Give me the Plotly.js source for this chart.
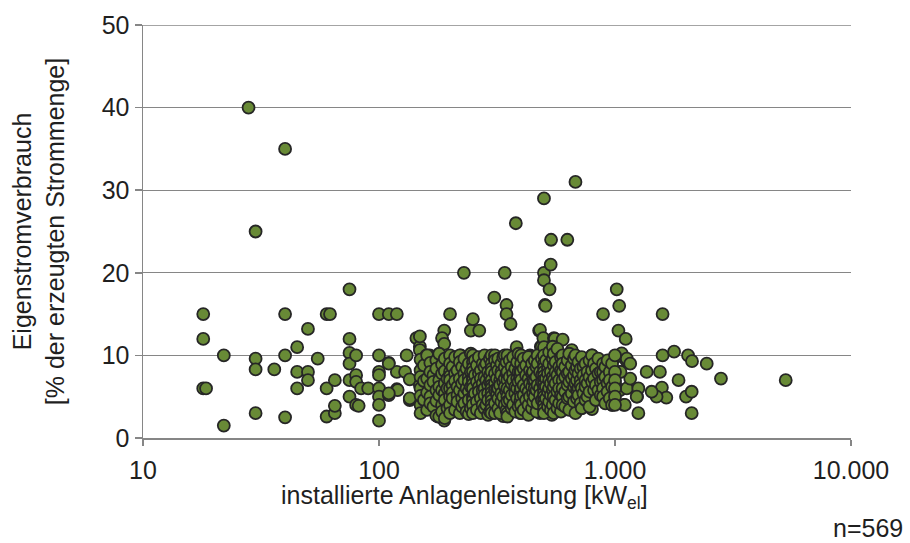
<!DOCTYPE html>
<html><head><meta charset="utf-8">
<script src="https://cdn.plot.ly/plotly-3.0.1.min.js"></script>
<style>html,body{margin:0;padding:0;background:#fff}#chart{width:910px;height:543px}</style>
</head><body><div id="chart"></div>
<script>
// Sparse plants below ~150 kW: [capacity kW, own use %]
const smallPlants = [[18,15],[18,12],[22,10],[18,6],[18.5,6],[22,1.5],[28,40],[40,35],[30,25],[30,9.6],[30,8.3],[30,3],[36,8.3],[40,15],[40,10],[40,2.5],[45,11],[45,8],[45,6],[50,13.2],[50,8],[50,7],[55,9.6],[60,15],[62,15],[60,6],[60,2.6],[65,3],[65,7],[65,3.9],[75,18],[75,12],[75,10.3],[75,9],[75,7],[75,5],[80,10],[80,7.6],[80,6.8],[80,4],[82,3.9],[84,6],[90,6],[100,15],[110,15],[119,15],[100,10],[110,9.1],[100,8],[100,7.6],[100,6],[100,5],[100,4],[100,2.1],[110,5.2],[119,8],[119,5.9],[129,8],[131,10],[135,7.1],[135,4.6],[144,12.1],[149,11.05],[149,12.3],[149,10.65],[149,6.4],[150,4],[120,5.8],[110,9],[110,5.4],[135,4.8]];
// Notable mid-size plants (150-1000 kW) outside the dense core
const midPlants = [[159,10],[164,10],[175,9.9],[189,13],[185,12.1],[189,11.4],[200,15],[229,20],[222,10],[246,10],[245,13],[266,13],[250,14.4],[308,17],[341,20],[347,16.1],[347,15],[361,13.8],[380,26],[383,11],[436,10],[440,9.9],[477,13],[481,13.1],[485,11.05],[489,11.05],[497,12.1],[500,29],[500,20],[500,19.1],[505,16.1],[508,16],[528,18],[534,21],[536,24],[551,12.1],[556,12],[600,11.9],[628,24],[656,10.65],[680,31],[799,10],[890,15],[740,9],[895,9],[799,3.5],[723,6],[850,5.8],[735,8.6],[895,7],[641,5],[178,2.6],[189,2.1],[336,2.66],[397,3],[481,3],[540,2.8]];
// Large plants (about 1000 kW and more)
const largePlants = [[1017,18],[1042,16],[1034,13],[1110,12],[1027,9.9],[1067,10.25],[1116,9.4],[1122,9.6],[1160,9],[1050,8],[1000,6.6],[1050,5.8],[1122,6],[1240,5],[1256,6],[1256,3],[1160,7.2],[972,4],[1090,4],[1100,4],[1362,8],[1550,8],[1591,10],[1591,15],[1780,10.45],[2040,10],[2120,9.3],[2447,9],[1859,7],[2812,7.2],[5289,7],[1580,6.1],[1650,4.9],[1500,5],[1430,5.6],[2000,5],[2113,5.6],[2113,3],[1236,5],[1055,8]];
// Dense core: capacity columns and the own-use values read in each
const coreCapacity = [150,155,160,165,170,175,180,185,190,195,200,205,210,215,220,225,230,235,240,245,250,255,260,265,270,275,280,285,290,295,300,310,316,320,326,330,336,341,347,350,358,365,370,378,385,390,397,400,410,420,430,436,445,450,457,465,470,481,490,500,510,520,526,535,545,550,560,570,580,590,600,615,630,640,656,670,680,690,700,715,723,735,750,765,780,799,815,830,850,870,890,910,930,950,972,1000];
const coreOwnUse = [
 [9.5,8.2,7.4,6.0,5.1,3.0],[8.8,6.9,4.6],[10.0,7.2,5.5,3.4],[9.1,8.0,6.4,5.0,4.2],[7.6,6.8,3.8],
 [9.4,8.4,5.8,4.5,2.7],[10.2,7.0,6.2,5.2,2.6],[8.9,7.8,5.8,4.0,3.2],[9.6,8.1,6.6,5.4,4.6,2.4],[7.2,6.0,3.6],
 [10.0,9.0,8.0,7.5,7.0,6.0,5.0,4.0,3.0],[8.6,6.4,5.5,4.8],[9.8,7.8,6.9,3.4],[8.2,6.2,5.2,4.4],[10.0,9.2,7.2,5.8,3.0],
 [8.6,6.6,4.8,3.8],[9.6,7.8,7.0,5.4,4.2],[8.4,6.0,3.2],[9.0,7.4,6.8,5.6,4.6,2.9],[10.2,8.0,6.2,3.6],
 [10.0,9.2,8.5,8.0,7.2,7.0,6.5,6.0,5.0,4.6,4.0,3.0],[9.4,7.6,5.4],[8.8,6.8,4.4,3.4],[9.8,7.8,6.2,5.6],[8.2,7.2,4.8,3.0],
 [9.0,6.6,5.8,4.0],[10.0,8.6,7.4,6.0,5.2,3.6],[9.0,7.0,4.0],[8.0,6.4,5.4,4.6,2.8],[9.6,7.6,6.8,3.2],
 [10.0,9.0,8.4,8.0,7.0,6.4,6.0,5.5,5.0,4.5,4.0,3.5,3.0],[10.0,9.4,7.8,6.6,5.8,4.2,3.0],[8.8,7.2,5.8,5.2],[9.6,8.2,6.0,4.8,3.6],[7.0,6.4,3.0],
 [9.0,8.0,7.6,5.4,4.4],[9.8,6.8,5.0],[10.0,8.6,7.2,6.2,4.0],[9.2,7.8,5.6,3.4],[10.0,8.0,7.0,6.0,5.0,4.4,3.0,2.6],
 [9.4,7.4,5.8,4.6],[8.6,6.6,5.2,3.6],[9.8,7.8,7.0,4.0],[8.4,6.2,5.4,3.2],[9.2,7.2,6.0,4.8],
 [10.2,8.0,6.8,3.8],[8.0,7.4,5.6,4.4],[10.0,9.0,8.0,7.0,6.0,5.0,4.0,3.0],[9.6,8.4,6.4,5.2,3.4],[8.8,7.6,6.0,4.6],
 [9.8,7.2,5.6,4.0,2.8],[8.2,6.6,5.0],[9.0,7.8,6.2,3.6],[8.0,7.0,5.4,4.4],[9.4,7.0,6.0,5.0],
 [8.6,7.4,5.8,3.2],[10.0,9.0,6.4,4.2],[8.0,6.0,5.2],[9.6,7.6,6.8,4.6],
 [11.0,10.0,9.0,8.5,8.0,7.5,7.0,6.5,6.0,5.5,5.0,4.5,4.0,3.5,3.0],
 [9.4,7.2,6.2,4.8],[8.4,7.8,5.6,3.8],[10.4,9.0,7.0,6.0,4.4],[8.0,6.6,5.2,3.4],[11.05,9.6,7.4,5.8,4.0],
 [10.2,8.8,7.0,6.2,5.0,3.0],[9.2,8.0,6.6,4.6],[10.8,7.6,5.6,3.6],[8.6,7.0,6.0,4.2],[9.8,8.2,5.2,3.2],
 [10.0,9.0,8.0,7.0,6.0,5.0,4.0],[8.6,7.4,5.6,3.8],[9.4,7.8,6.4,4.8],[10.2,8.0,6.8,5.0,3.4],[8.8,7.2,5.4],
 [9.6,7.6,6.2,4.4],[10.0,8.2,6.6,3.0],[8.6,7.0,5.8,4.8],[9.2,7.8,6.0,5.2],[8.4,7.0,6.4,4.2],
 [9.8,6.0,3.6],[8.6,7.6,5.4],[9.0,7.0,6.2,4.6],[8.0,6.6,5.0],[9.4,7.4,5.6,3.8],
 [10.0,8.2,6.8],[9.0,7.2,5.8],[8.4,6.4,4.6],[9.6,7.8,5.8],[8.0,6.8,5.2],
 [9.0,8.0,7.0,6.0,5.0],[8.6,7.4,4.2],[9.4,6.6,5.6],[8.0,7.0,4.8],[9.0,6.2,4.0],
 [10.0,8.0,7.0,6.0,5.0,4.0]
];
const xTickVals = [10, 100, 1000, 10000];
const xTickText = ['10', '100', '1.000', '10.000'];
const yTickVals = [0, 10, 20, 30, 40, 50];

const xs = [], ys = [];
[smallPlants, midPlants, largePlants].forEach(g => g.forEach(p => { xs.push(p[0]); ys.push(p[1]); }));
coreCapacity.forEach((c, i) => coreOwnUse[i].forEach(v => { xs.push(c); ys.push(v); }));

const gray = '#868686';
const txtFont = {family: '"Liberation Sans", Arial, sans-serif', size: 25, color: '#1f1f1f'};
const trace = {
  type: 'scatter', mode: 'markers', x: xs, y: ys,
  marker: {size: 12, color: '#688A36', line: {color: '#262626', width: 1.8}},
  hoverinfo: 'x+y', showlegend: false
};
const layout = {
  width: 910, height: 543,
  margin: {l: 143, r: 59, t: 25, b: 105},
  paper_bgcolor: '#ffffff', plot_bgcolor: '#ffffff',
  font: txtFont,
  xaxis: {
    type: 'log', range: [1, 4],
    tickvals: xTickVals, ticktext: xTickText, tickfont: txtFont,
    showgrid: false, zeroline: false, showline: true, linecolor: gray, linewidth: 1.5,
    ticks: 'outside', ticklen: 6, tickwidth: 1.5, tickcolor: gray, ticklabelstandoff: 3
  },
  yaxis: {
    range: [0, 50], tickvals: yTickVals, tickfont: txtFont,
    showgrid: true, gridcolor: gray, gridwidth: 1.3,
    zeroline: false, showline: true, linecolor: gray, linewidth: 1.5,
    ticks: 'outside', ticklen: 7, tickwidth: 1.5, tickcolor: gray,
    title: {text: 'Eigenstromverbrauch<br>[% der erzeugten Strommenge]', standoff: 30, font: txtFont}
  },
  shapes: [
    {type: 'line', xref: 'paper', yref: 'y', x0: 0, x1: 1, y0: 50, y1: 50, layer: 'below',
     line: {color: gray, width: 1.3}}
  ],
  annotations: [
    {xref: 'paper', yref: 'paper', x: 0.4548, y: -0.143, xanchor: 'center', yanchor: 'middle',
     showarrow: false, font: txtFont, text: 'installierte Anlagenleistung [kW<sub>el</sub>]'},
    {xref: 'paper', yref: 'paper', x: 1.0763, y: -0.218, xanchor: 'right', yanchor: 'middle',
     showarrow: false, font: txtFont, text: 'n=569'}
  ]
};
Plotly.newPlot('chart', [trace], layout, {displayModeBar: false, staticPlot: true});
</script>
</body></html>
